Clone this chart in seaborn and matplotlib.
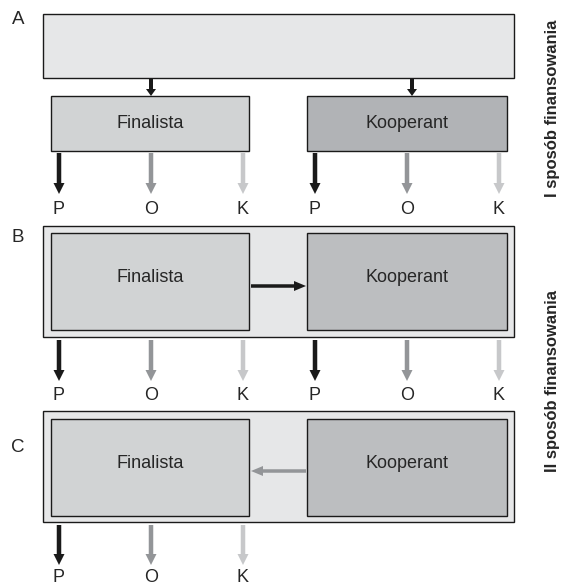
import matplotlib
matplotlib.use("Agg")
import matplotlib.pyplot as plt
from matplotlib.patches import Rectangle, FancyArrow
import seaborn as sns

# diagram content
panels = ["A", "B", "C"]
actors = ["Finalista", "Kooperant"]
flows = ["P", "O", "K"]
modes = ["I sposób finansowania", "II sposób finansowania"]
# which actors pay out P/O/K in each panel
panel_payers = [["Finalista", "Kooperant"], ["Finalista", "Kooperant"], ["Finalista"]]
# transfer between actors inside panel (from, to); None = funding from top box
panel_transfer = [None, ("Finalista", "Kooperant"), ("Kooperant", "Finalista")]

sns.set_theme(style="white")
plt.rcParams["font.family"] = ["Liberation Sans", "DejaVu Sans"]

flow_colors = ["#1a1a1a", "#939598", "#c7c8ca"]
actor_colors = {"Finalista": "#d1d3d4", "Kooperant": "#bcbec0"}
actor_colors_a = {"Finalista": "#d1d3d4", "Kooperant": "#b1b3b6"}
outer_color = "#e6e7e8"

fig = plt.figure(figsize=(5.68, 5.84), dpi=100)
ax = fig.add_axes([0, 0, 1, 1])
ax.set_xlim(0, 568)
ax.set_ylim(584, 0)
ax.axis("off")

box_x = {"Finalista": (51, 249), "Kooperant": (307, 507)}
flow_dx = [8, 100, 192]


def box(x0, x1, y0, y1, color, lw=1.0):
    ax.add_patch(Rectangle((x0, y0), x1 - x0, y1 - y0, facecolor=color,
                           edgecolor="#1a1a1a", lw=lw, zorder=2))


def arrow(x0, y0, x1, y1, color, w=4.5, hw=11, hl=11):
    ax.add_patch(FancyArrow(x0, y0, x1 - x0, y1 - y0, width=w, head_width=hw,
                            head_length=hl, length_includes_head=True,
                            color=color, lw=0, zorder=3))


def payouts(actor, y0, y1, ylab):
    xs = box_x[actor][0]
    for dx, lab, col in zip(flow_dx, flows, flow_colors):
        arrow(xs + dx, y0, xs + dx, y1, col)
        ax.text(xs + dx, ylab, lab, ha="center", va="center", fontsize=13)


# panel geometry: (outer top, outer bottom, inner top, inner bottom, arrow start, arrow end, label y, transfer y)
geo = [
    (14, 78, 96, 151, 153, 194, 209, None),
    (226, 337, 233, 330, 340, 381, 396, 286),
    (411, 522, 419, 516, 525, 565, 578, 471),
]
label_y = [20, 238, 447]

for i, p in enumerate(panels):
    ot, ob, it, ib, a0, a1, ly, ty = geo[i]
    ax.text(18, label_y[i], p, ha="center", va="center", fontsize=13.5)
    box(43, 514, ot, ob, outer_color)
    cols = actor_colors_a if i == 0 else actor_colors
    for actor in actors:
        x0, x1 = box_x[actor]
        box(x0, x1, it, ib, cols[actor])
        yt = (it + ib) / 2 if i == 0 else (it + ib) / 2 - 4
        ax.text((x0 + x1) / 2, yt, actor, ha="center", va="center", fontsize=13)
    for actor in panel_payers[i]:
        payouts(actor, a0, a1, ly)
    tr = panel_transfer[i]
    if tr is None:
        for xa in (151, 412):
            arrow(xa, ob, xa, it, "#1a1a1a", w=4, hw=10, hl=7)
    else:
        src, dst = tr
        if src == "Finalista":
            arrow(box_x[src][1] + 2, ty, box_x[dst][0] - 1, ty, "#1a1a1a", w=3.5, hw=10, hl=12)
        else:
            arrow(box_x[src][0] - 1, ty, box_x[dst][1] + 2, ty, "#939598", w=3.5, hw=10, hl=12)

ax.text(553, 108, modes[0], rotation=90, ha="center", va="center",
        fontsize=12, fontweight="bold")
ax.text(553, 381, modes[1], rotation=90, ha="center", va="center",
        fontsize=12, fontweight="bold")

fig.savefig("out.png", dpi=100, facecolor="white")
